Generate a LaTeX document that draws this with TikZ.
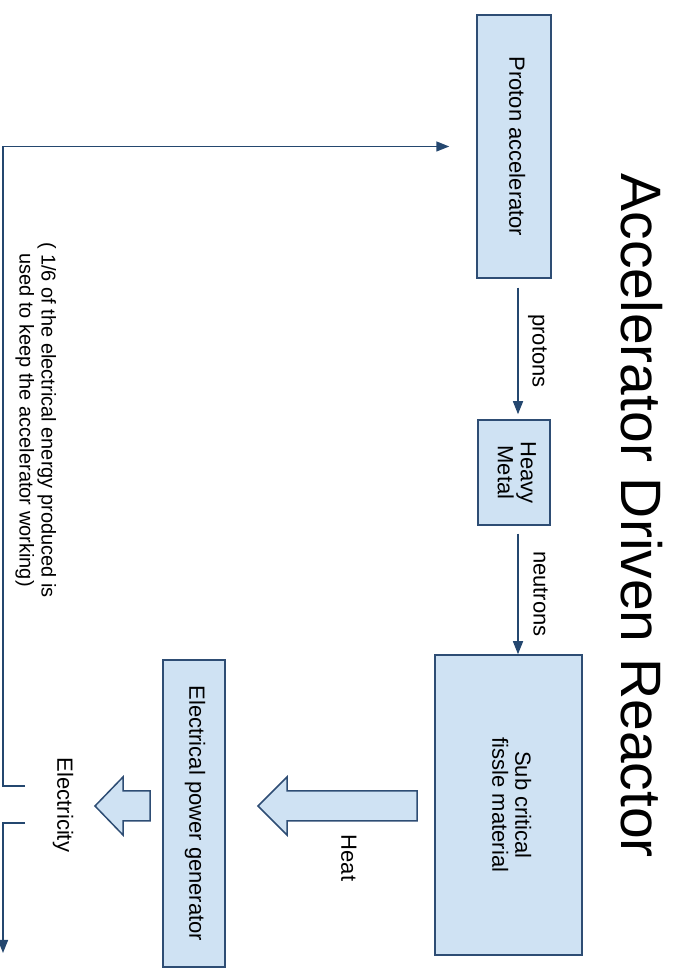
\documentclass[tikz,border=0pt]{standalone}
\usepackage{fontspec}
\setmainfont{Liberation Sans}
\usetikzlibrary{arrows.meta,positioning}
\definecolor{boxfill}{HTML}{CFE2F3}
\definecolor{boxline}{HTML}{2E4D74}
\definecolor{flowblue}{HTML}{24476F}
\newcommand{\sidetext}[1]{\rotatebox{-90}{\begin{tabular}{@{}c@{}}#1\end{tabular}}}
\tikzset{
  box/.style={draw=boxline,fill=boxfill,line width=1.5pt,inner sep=0pt,font=\fontsize{22}{23}\selectfont},
  flow/.style={draw=flowblue,line width=1.5pt,-{Triangle[length=13pt,width=10pt]}},
  fat/.style={draw=boxline,fill=boxfill,line width=1.5pt,line join=miter},
  lbl/.style={font=\fontsize{22}{23}\selectfont,inner sep=0pt},
}
\begin{document}
\begin{tikzpicture}[x=1pt,y=1pt]
  \useasboundingbox (0,0) rectangle (675,973);
  \node[font=\fontsize{57}{60}\selectfont,rotate=-90] (title) at (642,457) {Accelerator Driven Reactor};
  % main chain
  \node[box,minimum width=74,minimum height=263] (proton) at (514,826.5) {\sidetext{Proton accelerator}};
  \node[box,minimum width=72,minimum height=105] (metal) at (514,500.5) {\sidetext{Heavy\\Metal}};
  \node[box,minimum width=147,minimum height=300] (core) at (508.5,168) {\sidetext{Sub critical\\fissle material}};
  \node[box,minimum width=62,minimum height=307] (generator) at (194,159.5) {\sidetext{Electrical power generator}};
  \draw[flow] ([xshift=4pt,yshift=-9pt]proton.south) -- ([xshift=4pt,yshift=5pt]metal.north)
    node[midway,right=7pt,lbl]{\sidetext{protons}};
  \draw[flow] ([xshift=4pt,yshift=-8pt]metal.south) -- ([xshift=4pt]metal.south |- core.north)
    node[midway,right=8pt,lbl]{\sidetext{neutrons}};
  % heat and electricity
  \draw[fat] (417,182) -- (287,182) -- (287,196) -- (258,167) -- (287,138) -- (287,152) -- (417,152) -- cycle;
  \draw[fat] (150,182) -- (123,182) -- (123,196) -- (95,167) -- (123,138) -- (123,152) -- (150,152) -- cycle;
  \node[lbl] (heat) at (346,115) {\sidetext{Heat}};
  \node[lbl] (electricity) at (62,168) {\sidetext{Electricity}};
  % feedback to the accelerator
  \coordinate (upper) at (25,187);
  \coordinate (lower) at (25,150);
  \draw[flow] (upper) -- (3,187) |- ([xshift=-27pt]proton.west);
  \draw[flow] (lower) -- (3,150) -- (3,20);
  \node[lbl,font=\fontsize{20}{22}\selectfont] (note) at (35,553)
    {\sidetext{( 1/6 of the electrical energy produced is\\used to keep the accelerator working)}};
\end{tikzpicture}
\end{document}
